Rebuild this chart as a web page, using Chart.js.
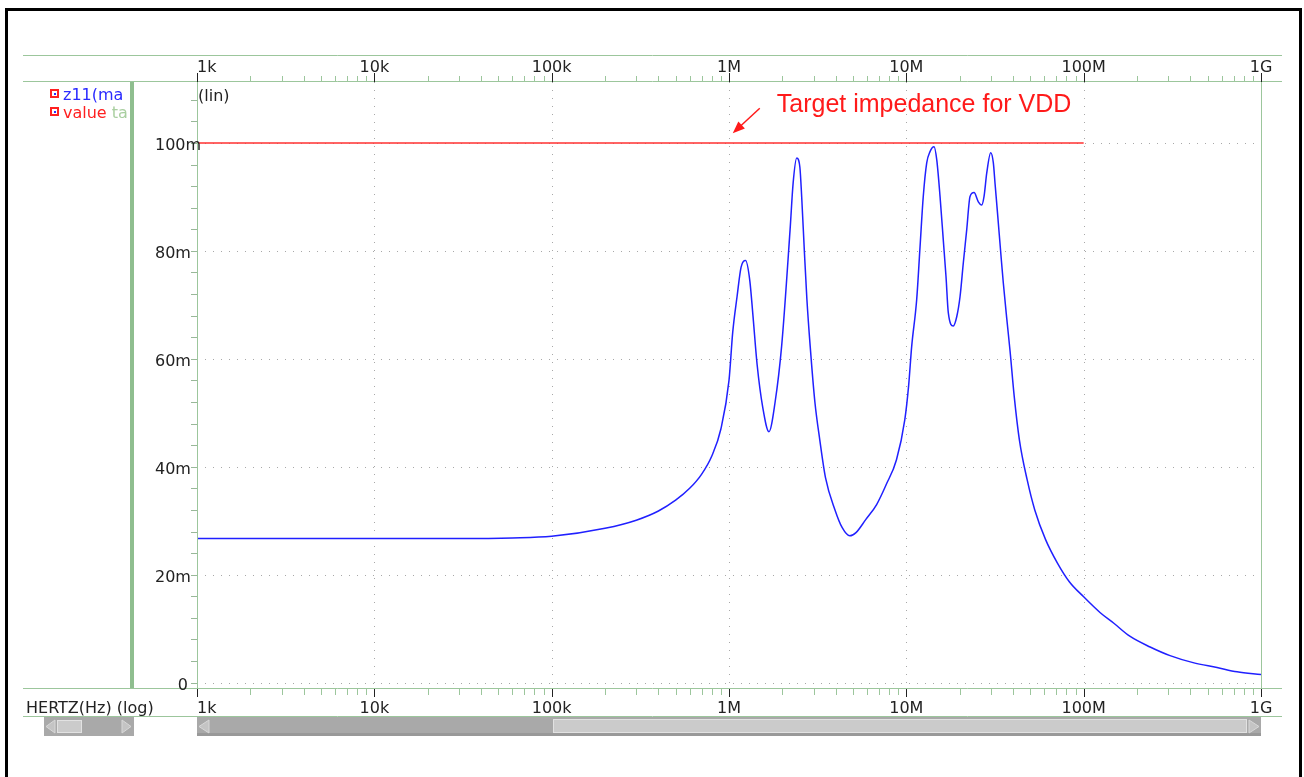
<!DOCTYPE html>
<html>
<head>
<meta charset="utf-8">
<script src="https://cdn.jsdelivr.net/npm/chart.js@4/dist/chart.umd.min.js"></script>
<style>
  body { margin: 0; background: #fff; }
</style>
</head>
<body>
<canvas id="graph" width="1304" height="777"></canvas>
<script>
// frequency sweep (Hz) and |z11| (ohm)
const freqHz = [1e3, 3e3, 1e4, 3e4, 6e4, 1e5, 2e5, 3e5, 4e5, 5e5, 6e5, 7e5, 8e5, 9e5,
  1.0e6, 1.05e6, 1.11e6, 1.17e6, 1.24e6, 1.31e6, 1.365e6, 1.44e6, 1.55e6, 1.68e6, 1.82e6,
  1.98e6, 2.21e6, 2.30e6, 2.41e6, 2.51e6, 2.57e6, 2.66e6, 2.75e6, 2.87e6, 3.05e6, 3.25e6,
  3.5e6, 3.96e6, 4.35e6, 4.8e6, 5.2e6, 5.9e6, 6.8e6, 7.7e6, 8.8e6, 9.8e6, 10.3e6,
  10.72e6, 11.44e6, 11.95e6, 12.46e6, 13.03e6, 13.6e6, 14.33e6, 14.84e6, 15.49e6, 16.16e6,
  16.74e6, 17.25e6, 18.4e6, 19.24e6, 20.08e6, 20.96e6, 21.9e6, 22.87e6, 24.09e6, 25.47e6,
  26.62e6, 27.43e6, 28.4e6, 29.92e6, 30.95e6, 31.64e6, 32.77e6, 34.2e6, 35.24e6, 36.83e6,
  38.44e6, 40.6e6, 43.4e6, 48e6, 53e6, 61e6, 71e6, 83e6, 100e6, 123.6e6, 148e6, 182e6,
  237e6, 307e6, 414e6, 565e6, 733e6, 1e9];
const z11Mag = [0.0267, 0.0267, 0.0267, 0.0267, 0.0268, 0.0271, 0.0286, 0.0301, 0.0318, 0.0338, 0.0360, 0.0386, 0.0420, 0.0470,
  0.0560, 0.0650, 0.0715, 0.0770, 0.0782, 0.0745, 0.0680, 0.0590, 0.0510, 0.0465, 0.0520,
  0.0623, 0.0839, 0.0926, 0.0972, 0.0955, 0.0900, 0.0800, 0.0710, 0.0623, 0.0520, 0.0450,
  0.0380, 0.0320, 0.0287, 0.0272, 0.0278, 0.0302, 0.0330, 0.0367, 0.0413, 0.0487, 0.0550,
  0.0623, 0.0710, 0.0808, 0.0901, 0.0963, 0.0984, 0.0993, 0.0969, 0.0901, 0.0820,
  0.0752, 0.0685, 0.0661, 0.0678, 0.0715, 0.0778, 0.0839, 0.0901, 0.0908, 0.0891,
  0.0885, 0.0901, 0.0944, 0.0982, 0.0963, 0.0925, 0.0865, 0.0790, 0.0740, 0.0675,
  0.0615, 0.0530, 0.0450, 0.0376, 0.0320, 0.0265, 0.0222, 0.0187, 0.0159, 0.0130, 0.0110, 0.0086,
  0.0066, 0.0050, 0.0037, 0.0028, 0.0020, 0.0015];

// target impedance line
const targetFreq = [1e3, 1e8];
const targetZ = [0.1, 0.1];

const decades = [1e3, 1e4, 1e5, 1e6, 1e7, 1e8, 1e9];
const decadeLabels = ['1k', '10k', '100k', '1M', '10M', '100M', '1G'];
const yTicks = [0, 0.02, 0.04, 0.06, 0.08, 0.1];
const yTickLabels = ['0', '20m', '40m', '60m', '80m', '100m'];

const GREEN = '#9cc69c';
const FONT = '16px "DejaVu Sans"';

function line(ctx, x1, y1, x2, y2) {
  ctx.beginPath(); ctx.moveTo(x1, y1); ctx.lineTo(x2, y2); ctx.stroke();
}

const chrome = {
  id: 'chrome',
  beforeDatasetsDraw(chart) {
    const { ctx, chartArea: a, scales: { x, y } } = chart;
    ctx.save();
    ctx.strokeStyle = '#a8a8a8';
    ctx.lineWidth = 1;
    ctx.setLineDash([1, 7]);
    decades.forEach(f => {
      const px = Math.round(x.getPixelForValue(f)) + 0.5;
      line(ctx, px, a.top, px, a.bottom);
    });
    yTicks.forEach(v => {
      const py = Math.round(y.getPixelForValue(v)) + 0.5;
      line(ctx, a.left, py, a.right, py);
    });
    ctx.restore();
  },
  afterDraw(chart) {
    const { ctx, chartArea: a, scales: { x, y } } = chart;
    ctx.save();

    // outer frame
    ctx.strokeStyle = '#000';
    ctx.lineWidth = 3;
    ctx.strokeRect(6.5, 9.5, 1294, 800);

    // green rules
    ctx.strokeStyle = GREEN;
    ctx.lineWidth = 1;
    [55.5, 81.5, 688.5, 716.5].forEach(yy => line(ctx, 23, yy, 1282, yy));
    line(ctx, a.left + 0.5, a.top, a.left + 0.5, a.bottom);
    line(ctx, a.right + 0.5, a.top, a.right + 0.5, a.bottom);
    ctx.fillStyle = '#8fbe8f';
    ctx.fillRect(130, 82, 4, 606);

    // x ticks, top and bottom
    decades.forEach((d, i) => {
      if (i < decades.length - 1) {
        for (let k = 2; k <= 9; k++) {
          const px = Math.round(x.getPixelForValue(d * k)) + 0.5;
          ctx.strokeStyle = GREEN;
          line(ctx, px, 76, px, 82);
          line(ctx, px, 689, px, 695);
        }
      }
      const px = Math.round(x.getPixelForValue(d)) + 0.5;
      ctx.strokeStyle = '#222';
      line(ctx, px, 73, px, 82);
      line(ctx, px, 689, px, 697);
    });
    ctx.font = FONT;
    ctx.fillStyle = '#222';
    decades.forEach((d, i) => {
      const px = x.getPixelForValue(d);
      ctx.textAlign = i === 0 ? 'left' : 'center';
      ctx.fillText(decadeLabels[i], px, 72);
      ctx.fillText(decadeLabels[i], px, 713);
    });

    // y ticks
    ctx.strokeStyle = '#99b899';
    for (let v = 0; v <= 0.1081; v += 0.004) {
      const py = Math.round(y.getPixelForValue(v)) + 0.5;
      line(ctx, a.left - 6, py, a.left, py);
    }
    ctx.fillStyle = '#222';
    yTicks.forEach((v, i) => {
      const py = y.getPixelForValue(v) + 7;
      if (i === 0) { ctx.textAlign = 'right'; ctx.fillText(yTickLabels[i], 188, py); }
      else { ctx.textAlign = 'left'; ctx.fillText(yTickLabels[i], 155, py); }
    });
    ctx.textAlign = 'left';
    ctx.fillText('(lin)', 198, 101);
    ctx.fillText('HERTZ(Hz) (log)', 26, 713);

    // legend, clipped at the panel edge
    ctx.save();
    ctx.beginPath(); ctx.rect(40, 83, 89, 40); ctx.clip();
    [[93, 'z11(ma', '#2b2bff', ''], [111, 'value ', '#ff2020', 'ta']].forEach(([cy, t1, c1, t2]) => {
      ctx.fillStyle = '#ff2020';
      ctx.fillRect(50, cy - 4, 9, 9);
      ctx.fillStyle = '#fff';
      ctx.fillRect(52, cy - 2, 5, 5);
      ctx.fillStyle = '#2b2bff';
      ctx.fillRect(54, cy, 2, 2);
      ctx.fillStyle = c1;
      ctx.fillText(t1, 63, cy + 7);
      if (t2) {
        const w = ctx.measureText(t1).width;
        ctx.fillStyle = '#a9cfa0';
        ctx.fillText(t2, 63 + w, cy + 7);
      }
    });
    ctx.restore();

    // scrollbars
    ctx.fillStyle = '#a9a9a9';
    ctx.fillRect(44, 717, 90, 19);
    ctx.fillRect(197, 717, 1064, 19);
    ctx.fillStyle = '#999';
    ctx.fillRect(197, 733, 1064, 3);
    ctx.fillStyle = '#cbcbcb';
    ctx.fillRect(57, 720, 25, 13);
    ctx.fillRect(553, 719, 694, 14);
    ctx.strokeStyle = '#e2e2e2';
    ctx.strokeRect(57.5, 720.5, 24, 12);
    ctx.strokeRect(553.5, 719.5, 693, 13);
    ctx.fillStyle = '#c4c4c4';
    ctx.strokeStyle = '#d8d8d8';
    [[55, 46], [122, 131], [209, 199], [1249, 1259]].forEach(([b, t]) => {
      ctx.beginPath();
      ctx.moveTo(b, 720); ctx.lineTo(t, 726.5); ctx.lineTo(b, 733); ctx.closePath();
      ctx.fill(); ctx.stroke();
    });

    // annotation
    const tipX = x.getPixelForValue(1.05e6), tipY = y.getPixelForValue(0.1018);
    const tailX = tipX + 27, tailY = tipY - 25;
    ctx.strokeStyle = '#ff1a1a';
    ctx.fillStyle = '#ff1a1a';
    ctx.lineWidth = 1.5;
    line(ctx, tailX, tailY, tipX + 7, tipY - 6.5);
    const ang = Math.atan2(tipY - tailY, tipX - tailX);
    ctx.beginPath();
    ctx.moveTo(tipX, tipY);
    ctx.lineTo(tipX - 13 * Math.cos(ang - 0.38), tipY - 13 * Math.sin(ang - 0.38));
    ctx.lineTo(tipX - 13 * Math.cos(ang + 0.38), tipY - 13 * Math.sin(ang + 0.38));
    ctx.closePath(); ctx.fill();
    ctx.font = '25px "Liberation Sans", Arial, sans-serif';
    ctx.textAlign = 'left';
    ctx.fillText('Target impedance for VDD', x.getPixelForValue(1.86e6), y.getPixelForValue(0.1057));

    ctx.restore();
  }
};

new Chart(document.getElementById('graph'), {
  type: 'line',
  data: {
    datasets: [
      {
        label: 'z11(mag)',
        data: freqHz.map((f, i) => ({ x: f, y: z11Mag[i] })),
        borderColor: '#2020ff',
        borderWidth: 1.5,
        pointRadius: 0,
        cubicInterpolationMode: 'monotone'
      },
      {
        label: 'value target',
        data: targetFreq.map((f, i) => ({ x: f, y: targetZ[i] })),
        borderColor: '#ff3030',
        borderWidth: 1.5,
        pointRadius: 0
      }
    ]
  },
  options: {
    responsive: false,
    animation: false,
    layout: { padding: { left: 197, right: 43, top: 82, bottom: 89 } },
    scales: {
      x: { type: 'logarithmic', min: 1e3, max: 1e9, display: false },
      y: { type: 'linear', min: -0.001, max: 0.1113, display: false }
    },
    plugins: {
      legend: { display: false },
      tooltip: { enabled: false }
    }
  },
  plugins: [chrome]
});
</script>
</body>
</html>
